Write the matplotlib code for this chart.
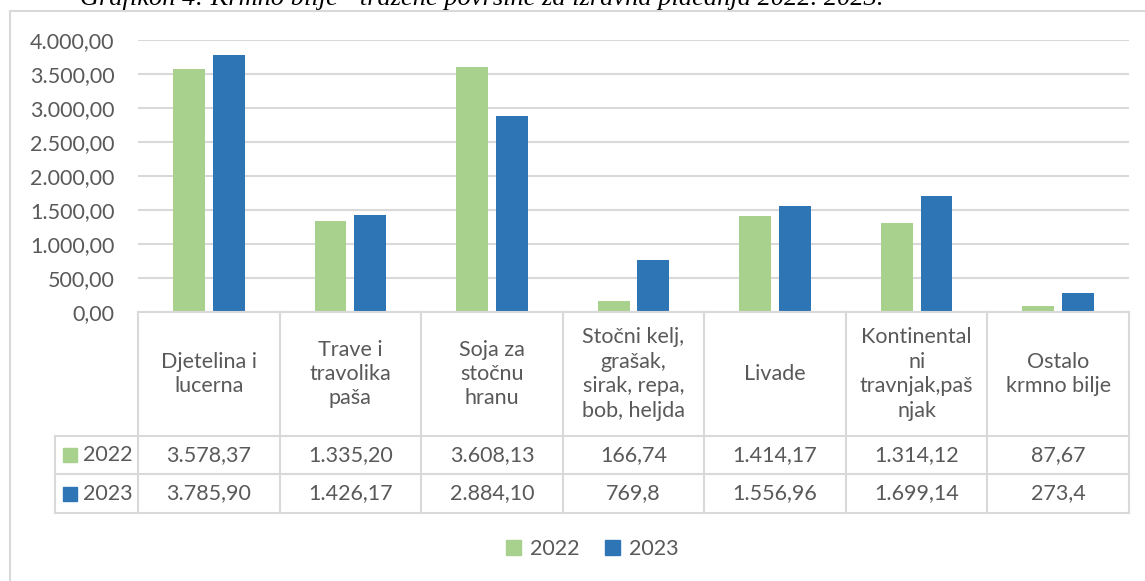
import matplotlib
matplotlib.use("Agg")

import matplotlib.pyplot as plt
from matplotlib.patches import Rectangle
from matplotlib.lines import Line2D
import numpy as np


categories = [
    "Djetelina i\nlucerna",
    "Trave i\ntravolika\npaša",
    "Soja za\nstočnu\nhranu",
    "Stočni kelj,\ngrašak,\nsirak, repa,\nbob, heljda",
    "Livade",
    "Kontinental\nni\ntravnjak,paš\nnjak",
    "Ostalo\nkrmno bilje",
]
years = ["2022", "2023"]
values_2022 = [3578.37, 1335.20, 3608.13, 166.74, 1414.17, 1314.12, 87.67]
values_2023 = [3785.90, 1426.17, 2884.10, 769.8, 1556.96, 1699.14, 273.4]
labels_2022 = ["3.578,37", "1.335,20", "3.608,13", "166,74", "1.414,17", "1.314,12", "87,67"]
labels_2023 = ["3.785,90", "1.426,17", "2.884,10", "769,8", "1.556,96", "1.699,14", "273,4"]
y_ticks = [0, 500, 1000, 1500, 2000, 2500, 3000, 3500, 4000]

title = "Grafikon 4: Krmno bilje - tražene površine za izravna plaćanja 2022. 2023."

GREEN = "#A9D18E"
BLUE = "#2E75B6"
GRID = "#D9D9D9"
TEXT = "#595959"
FONT = ["Lato", "DejaVu Sans"]
FS = 15.5

W, H = 1145, 581
plt.rcParams["font.family"] = FONT


def fx(x):
    return x / W


def fy(y):
    return 1 - y / H


fig = plt.figure(figsize=(W / 100, H / 100), dpi=100)

# chart frame (only left and top edges are inside the crop)
fig.add_artist(Line2D([fx(10), fx(10)], [fy(11), fy(H + 5)], color=GRID, lw=1.5))
fig.add_artist(Line2D([fx(10), fx(W + 5)], [fy(11), fy(11)], color=GRID, lw=1.5))

# title, cut off at the top of the image like in the source
fig.text(fx(80), fy(5), title, family="Liberation Serif", style="italic",
         fontsize=19, color="black", va="baseline", ha="left")

# bar area
left, right, top, bottom = 138, 1129, 40, 312
ax = fig.add_axes([fx(left), fy(bottom), fx(right - left), (bottom - top) / H])
x = np.arange(len(categories))
off = 0.14
bw = 0.225
ax.bar(x - off, values_2022, bw, color=GREEN, zorder=3)
ax.bar(x + off, values_2023, bw, color=BLUE, zorder=3)
ax.set_xlim(-0.5, len(categories) - 0.5)
ax.set_ylim(0, 4000)
ax.set_yticks(y_ticks)
ax.set_yticklabels([f"{v:,.2f}".replace(",", "X").replace(".", ",").replace("X", ".")
                    for v in y_ticks])
ax.yaxis.grid(True, color=GRID, lw=1.5, zorder=0)
ax.set_xticks([])
ax.tick_params(axis="y", length=0, pad=17, labelsize=FS, labelcolor=TEXT)
for s in ax.spines.values():
    s.set_visible(False)

# data table under the bars
col_w = (right - left) / len(categories)
row_y = [bottom, 436, 474, 513]
leg_left = 55
lw = 1.5
for y in row_y:
    x0 = left if y == bottom else leg_left
    fig.add_artist(Line2D([fx(x0), fx(right)], [fy(y), fy(y)], color=GRID, lw=lw))
for i in range(len(categories) + 1):
    xc = left + i * col_w
    fig.add_artist(Line2D([fx(xc), fx(xc)], [fy(bottom), fy(row_y[-1])], color=GRID, lw=lw))
fig.add_artist(Line2D([fx(leg_left), fx(leg_left)], [fy(row_y[1]), fy(row_y[-1])], color=GRID, lw=lw))

for i, cat in enumerate(categories):
    cx = left + (i + 0.5) * col_w
    fig.text(fx(cx), fy((row_y[0] + row_y[1]) / 2), cat, ha="center", va="center",
             fontsize=FS, color=TEXT, linespacing=1.28)
    fig.text(fx(cx), fy((row_y[1] + row_y[2]) / 2), labels_2022[i], ha="center", va="center",
             fontsize=FS, color=TEXT)
    fig.text(fx(cx), fy((row_y[2] + row_y[3]) / 2), labels_2023[i], ha="center", va="center",
             fontsize=FS, color=TEXT)

for r, (yr, col) in enumerate(zip(years, [GREEN, BLUE])):
    yc = (row_y[r + 1] + row_y[r + 2]) / 2
    fig.add_artist(Rectangle((fx(63), fy(yc + 7)), fx(14), 14 / H, color=col))
    fig.text(fx(83), fy(yc), yr, ha="left", va="center", fontsize=FS, color=TEXT)

# legend at the bottom
handles = [Rectangle((0, 0), 1, 1, color=GREEN), Rectangle((0, 0), 1, 1, color=BLUE)]
fig.legend(handles, years, loc="center", bbox_to_anchor=(fx(592), fy(549)), ncol=2,
           frameon=False, fontsize=FS, labelcolor=TEXT, handlelength=0.7, handleheight=0.7,
           handletextpad=0.4, columnspacing=1.2)

fig.savefig("out.png", dpi=100)
plt.close(fig)
